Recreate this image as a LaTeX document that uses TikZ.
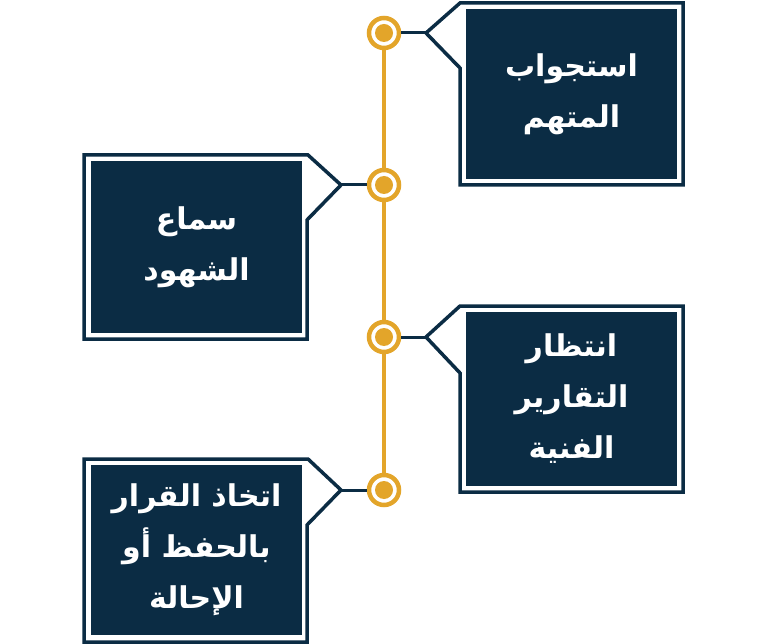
\documentclass[tikz,border=0pt]{standalone}
\usepackage{fontspec}
\newfontfamily\arabicfont[Script=Arabic]{DejaVu Sans}
\TeXXeTstate=1
\definecolor{navy}{HTML}{0B2C44}
\definecolor{gold}{HTML}{E3A52A}
\tikzset{
  outline/.style={draw=navy, line width=3.5pt, line join=miter, fill=white},
  inner/.style={fill=navy, inner sep=0pt, text=white, align=center,
    font=\arabicfont\bfseries\fontsize{30}{51}\selectfont},
  link/.style={draw=navy, line width=3pt},
  spine/.style={draw=gold, line width=3.5pt},
  ring/.style={circle, draw=gold, line width=4.5pt, fill=white, minimum size=30pt, inner sep=0pt},
  dot/.style={circle, fill=gold, minimum size=18pt, inner sep=0pt}
}
\begin{document}
\begin{tikzpicture}[x=1pt,y=-1pt]
\useasboundingbox (0,0) rectangle (768,644);

% spine
\coordinate (s1) at (384,33);
\coordinate (s4) at (384,490);
\draw[spine] (s1) -- (s4);

% box 1 (right, top)
\draw[outline] (683,3) -- (460,3) -- (426,33) coordinate (t1) -- (460,68) -- (460,185) -- (683,185) -- cycle;
\node[inner, minimum width=211pt, minimum height=170pt] (b1) at (571.5,94)
  {\beginR استجواب\endR\\\beginR المتهم\endR};

% box 2 (left)
\draw[outline] (84,155) -- (308,155) -- (341,185) coordinate (t2) -- (307,220) -- (307,339) -- (84,339) -- cycle;
\node[inner, minimum width=211pt, minimum height=172pt] (b2) at (196.5,247)
  {\beginR سماع\endR\\\beginR الشهود\endR};

% box 3 (right)
\draw[outline] (683,306) -- (460,306) -- (426,337) coordinate (t3) -- (460,373) -- (460,492) -- (683,492) -- cycle;
\node[inner, minimum width=211pt, minimum height=174pt] (b3) at (571.5,399)
  {\beginR انتظار\endR\\\beginR التقارير\endR\\\beginR الفنية\endR};

% box 4 (left)
\draw[outline] (84,459) -- (308,459) -- (341,490) coordinate (t4) -- (307,525) -- (307,642) -- (84,642) -- cycle;
\node[inner, minimum width=211pt, minimum height=170pt] (b4) at (196.5,550)
  {\beginR اتخاذ القرار\endR\\\beginR بالحفظ أو\endR\\\beginR الإحالة\endR};

% rings
\node[ring] (c1) at (384,33) {};
\node[ring] (c2) at (384,185) {};
\node[ring] (c3) at (384,337) {};
\node[ring] (c4) at (384,490) {};
\foreach \i in {1,2,3,4} \node[dot] (d\i) at (c\i) {};

% links
\draw[link] (c1.east) -- (t1);
\draw[link] (c2.west) -- (t2);
\draw[link] (c3.east) -- (t3);
\draw[link] (c4.west) -- (t4);
\end{tikzpicture}
\end{document}
